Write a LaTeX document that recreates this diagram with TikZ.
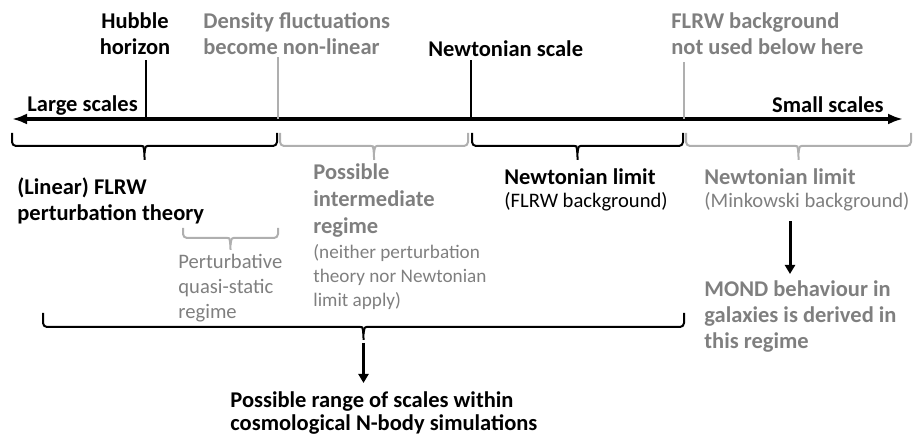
\documentclass[tikz,border=0pt]{standalone}
\usepackage{fontspec}
\setmainfont{Carlito}
\usepackage{xcolor}
\usetikzlibrary{arrows.meta, positioning, calc}
\definecolor{txtgray}{RGB}{127,127,127}
\definecolor{linegray}{RGB}{175,175,175}
\tikzstyle{lab} = [inner sep=0pt, font=\bfseries\fontsize{11.25}{13}\selectfont, align=left]
\tikzstyle{labgray} = [lab, text=txtgray]
\tikzstyle{note} = [inner sep=0pt, font=\fontsize{10.3}{11.5}\selectfont, align=left]
\tikzstyle{notegray} = [note, text=txtgray]
\tikzstyle{smallgray} = [inner sep=0pt, font=\fontsize{9.6}{12}\selectfont, align=left, text=txtgray]
\tikzstyle{axis} = [draw, line width=2pt, {Latex[length=7.5pt,width=5.5pt]}-{Latex[length=7.5pt,width=5.5pt]}]
\tikzstyle{scaletick} = [draw, line width=1.3pt]
\tikzstyle{scaletickgray} = [draw, line width=1pt, color=linegray]
\tikzstyle{line} = [draw, line width=1.5pt, -{Triangle[length=4.5pt,width=5pt]}]
% brace: colour, x left, x right, y top, y middle, y tip
\newcommand{\rangebrace}[6]{%
  \pgfmathsetmacro\bracemid{(#2+#3)/2}
  \draw[#1, line width=1pt, rounded corners=2pt] (#2,#4) -- (#2,#5) -- (\bracemid-7,#5)
    .. controls (\bracemid-1,#5) .. (\bracemid,#5+7) -- (\bracemid,#6);
  \draw[#1, line width=1pt, rounded corners=2pt] (#3,#4) -- (#3,#5) -- (\bracemid+7,#5)
    .. controls (\bracemid+1,#5) .. (\bracemid,#5+7);
}

\begin{document}
\begin{tikzpicture}[x=0.5pt, y=-0.5pt]
    \useasboundingbox (0,0) rectangle (914,437);

    % Axis
    \coordinate (largeend) at (12,119);
    \coordinate (smallend) at (903,119);
    \path [axis] (largeend) -- (smallend);
    \node [lab, anchor=north west] (large) at (27,95) {Large scales};
    \node [lab, anchor=north east] (small) at (884,96) {Small scales};

    % Scale marks
    \coordinate (hubmark) at (146,119);
    \coordinate (densmark) at (278,119);
    \coordinate (newtmark) at (471,119);
    \coordinate (flrwmark) at (684,119);
    \path [scaletick] (hubmark) -- ++(0,-59);
    \path [scaletickgray] (densmark) -- ++(0,-62);
    \path [scaletick] (newtmark) -- ++(0,-59);
    \path [scaletickgray] (flrwmark) -- ++(0,-57);
    \node [lab, align=center, anchor=north] (hubble) at (135,12) {Hubble\\horizon};
    \node [labgray, anchor=north west] (density) at (203,12) {Density fluctuations\\become non-linear};
    \node [lab, anchor=north west] (newtscale) at (428,40) {Newtonian scale};
    \node [labgray, anchor=north west] (flrwbg) at (671,12) {FLRW background\\not used below here};

    % Regimes
    \rangebrace{black}{12}{277}{133}{146}{160}
    \rangebrace{linegray}{280}{468}{133}{146}{160}
    \rangebrace{black}{472}{683}{133}{146}{160}
    \rangebrace{linegray}{686}{911}{133}{146}{160}
    \rangebrace{linegray}{183}{278}{228}{238}{250}
    \rangebrace{black}{43}{684}{313}{327}{340}
    \coordinate (nbodytip) at (363.5,343);

    \node [lab, anchor=north west] (linear) at (17,177) {(Linear) FLRW\\perturbation theory};
    \node [notegray, font=\fontsize{10.3}{12.5}\selectfont, anchor=north west] (quasi) at (178,254) {Perturbative\\quasi-static\\regime};
    \node [labgray, font=\bfseries\fontsize{11.25}{13.5}\selectfont, anchor=north west] (possible) at (313,163) {Possible\\intermediate\\regime};
    \node [smallgray, below=3.5pt of possible.south west, anchor=north west] (neither) {(neither perturbation\\theory nor Newtonian\\limit apply)};
    \node [note, anchor=north west] (newtflrw) at (504,168) {{\bfseries\fontsize{11.25}{11.5}\selectfont Newtonian limit}\\(FLRW background)};
    \node [notegray, anchor=north west] (newtmink) at (704,168) {{\bfseries\fontsize{11.25}{11.5}\selectfont Newtonian limit}\\(Minkowski background)};
    \node [labgray, anchor=north west] (mond) at (704,280) {MOND behaviour in\\galaxies is derived in\\this regime};
    \node [lab, font=\bfseries\fontsize{11.25}{11.5}\selectfont, anchor=north west] (nbody) at (230,391) {Possible range of scales within\\cosmological N-body simulations};

    % Arrows
    \coordinate (mondx) at (790,0);
    \path [line] ([yshift=-5pt]newtmink.south -| mondx) -- ([yshift=3pt]mond.north -| mondx);
    \path [line] (nbodytip) -- ([yshift=4pt]nbody.north -| nbodytip);

\end{tikzpicture}
\end{document}
